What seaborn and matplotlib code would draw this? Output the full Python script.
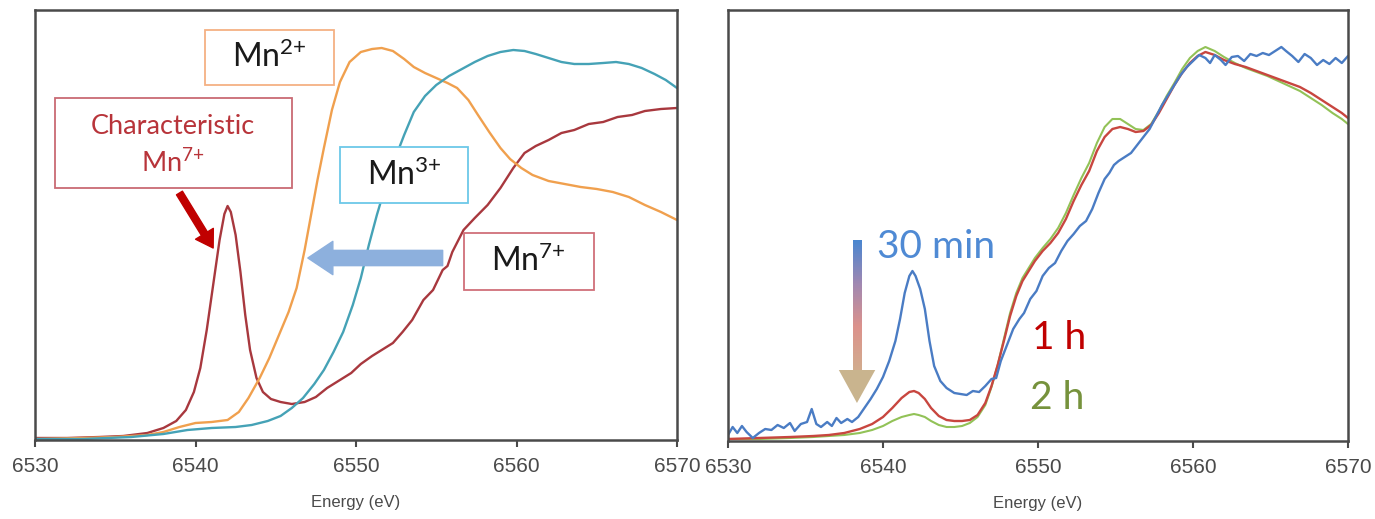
"""
Mn K-edge XANES – reference spectra (left) and time series (right)
"""

import numpy as np
import pandas as pd
import matplotlib.pyplot as plt
import matplotlib.patches as mpatches
from matplotlib.colors import LinearSegmentedColormap
import seaborn as sns

# ── Data (arbitrary absorption units) ──────────────────────────────────
e_mn7 = [6530, 6532, 6534, 6535.5, 6537, 6538, 6538.8, 6539.4, 6539.9, 6540.3,
         6540.7, 6541.1, 6541.5, 6541.8, 6542.0, 6542.2, 6542.5, 6542.8, 6543.1, 6543.4,
         6543.8, 6544.2, 6544.7, 6545.3, 6546.0, 6546.8, 6547.5, 6548.2, 6549.0, 6549.7,
         6550.3, 6551.0, 6551.6, 6552.3, 6552.9, 6553.5, 6554.2, 6554.8, 6555.4, 6555.7,
         6556.0, 6556.7, 6557.4, 6558.2, 6559.0, 6559.8, 6560.5, 6561.2, 6562.0, 6562.8,
         6563.6, 6564.5, 6565.4, 6566.3, 6567.2, 6568.0, 6569.0, 6570]
mn7 = [2, 2, 3, 4, 7, 12, 19, 30, 48, 72,
       110, 155, 200, 226, 234, 228, 205, 168, 125, 90,
       62, 48, 41, 38, 36, 38, 43, 52, 60, 67,
       76, 84, 90, 97, 108, 120, 140, 150, 170, 174,
       188, 210, 222, 235, 252, 272, 287, 294, 300, 307,
       310, 316, 318, 323, 325, 329, 331, 332]

e_mn2 = [6530, 6533, 6535, 6537, 6538, 6539, 6540, 6541, 6542, 6542.7,
         6543.3, 6544, 6544.6, 6545.2, 6545.8, 6546.3, 6546.8, 6547.2, 6547.6, 6548.0,
         6548.5, 6549.0, 6549.6, 6550.3, 6551.0, 6551.6, 6552.3, 6553.0, 6553.6, 6554.3,
         6555.0, 6555.7, 6556.3, 6557.0, 6557.6, 6558.3, 6559.0, 6559.6, 6560.3, 6561.0,
         6562.0, 6563.0, 6564.0, 6565.0, 6566.0, 6567.0, 6568.0, 6569.0, 6570]
mn2 = [1, 2, 3, 5, 8, 13, 17, 18, 20, 28,
       42, 62, 82, 105, 128, 152, 190, 225, 260, 292,
       330, 358, 378, 388, 391, 392, 389, 381, 373, 367,
       362, 357, 352, 340, 325, 308, 292, 281, 272, 265,
       259, 256, 253, 251, 248, 243, 235, 228, 220]

e_mn3 = [6530, 6533, 6536, 6538, 6539.5, 6541, 6542.5, 6543.5, 6544.5, 6545.3,
         6546, 6546.7, 6547.4, 6548, 6548.6, 6549.2, 6549.8, 6550.3, 6550.8, 6551.3,
         6551.8, 6552.4, 6553.0, 6553.6, 6554.3, 6555.0, 6555.8, 6556.6, 6557.4, 6558.2,
         6559.0, 6559.8, 6560.5, 6561.2, 6562.0, 6562.8, 6563.6, 6564.5, 6565.4, 6566.2,
         6567.0, 6567.8, 6568.6, 6569.3, 6570]
mn3 = [1, 1, 3, 6, 10, 12, 13, 15, 19, 24,
       32, 42, 56, 70, 88, 108, 135, 162, 195, 225,
       252, 280, 305, 328, 344, 355, 364, 371, 378, 384,
       388, 390, 389, 386, 382, 378, 376, 376, 377, 378,
       376, 372, 366, 360, 352]

e_30min = [6530, 6530.3, 6530.6, 6530.9, 6531.2, 6531.6, 6532.0, 6532.4, 6532.8, 6533.2,
           6533.6, 6534.0, 6534.3, 6534.7, 6535.1, 6535.4, 6535.7, 6536.0, 6536.4, 6536.7,
           6537.0, 6537.3, 6537.7, 6538.0, 6538.4, 6538.8, 6539.2, 6539.6, 6540.0, 6540.4,
           6540.8, 6541.1, 6541.4, 6541.7, 6541.9, 6542.1, 6542.4, 6542.7, 6543.0, 6543.3,
           6543.7, 6544.1, 6544.6, 6545.0, 6545.4, 6545.8, 6546.2, 6546.6, 6547.0, 6547.3,
           6547.6, 6548.0, 6548.4, 6548.8, 6549.1, 6549.5, 6549.9, 6550.3, 6550.7, 6551.1,
           6551.5, 6551.9, 6552.3, 6552.7, 6553.1, 6553.5, 6553.9, 6554.3, 6554.6, 6554.9,
           6555.2, 6555.6, 6556.0, 6556.4, 6556.8, 6557.2, 6557.6, 6558.0, 6558.4, 6558.8,
           6559.2, 6559.6, 6560.0, 6560.4, 6560.8, 6561.1, 6561.4, 6561.8, 6562.1, 6562.5,
           6562.9, 6563.3, 6563.7, 6564.1, 6564.5, 6564.9, 6565.3, 6565.7, 6566.0, 6566.4,
           6566.8, 6567.2, 6567.6, 6568.0, 6568.4, 6568.8, 6569.2, 6569.6, 6570]
s_30min = [6, 14, 8, 15, 9, 3, 8, 12, 11, 16,
           13, 18, 10, 17, 19, 32, 17, 14, 19, 15,
           23, 18, 22, 19, 24, 33, 42, 52, 64, 80,
           100, 122, 148, 165, 170, 165, 152, 132, 100, 75,
           60, 53, 48, 47, 46, 50, 49, 55, 62, 63,
           80, 96, 112, 122, 128, 142, 150, 165, 173, 178,
           190, 200, 207, 215, 220, 232, 248, 262, 268, 276,
           280, 284, 288, 296, 304, 312, 324, 336, 346, 356,
           366, 374, 380, 386, 383, 378, 386, 381, 376, 384,
           385, 380, 387, 385, 388, 386, 390, 394, 390, 385,
           379, 387, 383, 376, 381, 377, 383, 378, 385]

e_later = [6530, 6532, 6534, 6535.5, 6536.5, 6537.5, 6538.5, 6539.3, 6540.0, 6540.6,
           6541.2, 6541.7, 6542.0, 6542.3, 6542.7, 6543.1, 6543.6, 6544.1, 6544.6, 6545.1,
           6545.6, 6546.1, 6546.6, 6547.0, 6547.4, 6547.8, 6548.2, 6548.6, 6549.0, 6549.4,
           6549.8, 6550.3, 6550.8, 6551.3, 6551.8, 6552.3, 6552.8, 6553.3, 6553.8, 6554.3,
           6554.8, 6555.3, 6555.8, 6556.3, 6556.8, 6557.3, 6557.8, 6558.3, 6558.8, 6559.3,
           6559.8, 6560.3, 6560.8, 6561.4, 6562.0, 6562.7, 6563.4, 6564.1, 6564.8, 6565.5,
           6566.2, 6566.9, 6567.6, 6568.3, 6569.0, 6569.6, 6570]
s_1h = [2, 3, 4, 5, 6, 8, 12, 17, 24, 33,
        43, 49, 50, 48, 42, 33, 25, 21, 20, 20,
        21, 26, 38, 55, 76, 100, 125, 145, 160, 170,
        180, 190, 198, 208, 222, 240, 256, 270, 290, 304,
        312, 314, 312, 309, 310, 316, 328, 342, 356, 368,
        378, 385, 389, 386, 381, 377, 374, 370, 366, 362,
        358, 354, 348, 341, 334, 328, 323]
s_2h = [2, 2, 3, 4, 5, 6, 8, 11, 15, 20,
        24, 26, 27, 26, 24, 20, 16, 14, 14, 15,
        18, 24, 36, 54, 76, 102, 128, 148, 163, 173,
        183, 193, 202, 213, 228, 246, 263, 278, 298, 314,
        322, 322, 317, 312, 311, 317, 330, 345, 358, 372,
        383, 390, 394, 390, 384, 378, 373, 369, 365, 360,
        355, 350, 343, 336, 328, 322, 317]

x_ticks = [6530, 6540, 6550, 6560, 6570]

# ── Styling ────────────────────────────────────────────────
sns.set_theme(style="white")
plt.rcParams.update({
    "font.family": ["Liberation Sans", "DejaVu Sans"],
    "mathtext.default": "regular",
    "axes.edgecolor": "#4a4a4a",
    "axes.linewidth": 1.8,
})
LABEL_FONT = "Lato"
C_MN7, C_MN2, C_MN3 = "#a8383e", "#f0a04e", "#45a2b6"
C_30, C_1H, C_2H = "#4a7cc4", "#c8463f", "#92c257"

fig = plt.figure(figsize=(13.75, 5.19), dpi=100)
ax1 = fig.add_axes([35 / 1375, 79 / 519, 642 / 1375, 430 / 519])
ax2 = fig.add_axes([728 / 1375, 78 / 519, 620 / 1375, 431 / 519])

# ── Left panel: reference compounds ───────────────────────
sns.lineplot(x=e_mn7, y=mn7, ax=ax1, color=C_MN7, linewidth=1.7, sort=False)
sns.lineplot(x=e_mn2, y=mn2, ax=ax1, color=C_MN2, linewidth=1.7, sort=False)
sns.lineplot(x=e_mn3, y=mn3, ax=ax1, color=C_MN3, linewidth=1.7, sort=False)

def label_box(ax, x0, x1, y0, y1, edge):
    ax.add_patch(mpatches.Rectangle((x0, y0), x1 - x0, y1 - y0, facecolor="white",
                                    edgecolor=edge, linewidth=1.3, zorder=5))

label_box(ax1, 6540.6, 6548.6, 355, 410, "#f4b183")
ax1.text(6544.6, 383, "Mn$^{2{+}}$", ha="center", va="center", fontsize=23,
         family=LABEL_FONT, color="#1a1a1a", zorder=6)
label_box(ax1, 6531.25, 6546.0, 252, 342, "#c96a74")
ax1.text(6538.6, 313, "Characteristic", ha="center", va="center", fontsize=19.5,
         family=LABEL_FONT, color="#b8343a", zorder=6)
ax1.text(6538.6, 277, "Mn$^{7{+}}$", ha="center", va="center", fontsize=19.5,
         family=LABEL_FONT, color="#b8343a", zorder=6)
label_box(ax1, 6549.0, 6556.95, 237, 293, "#6cc8e8")
ax1.text(6553.0, 265, "Mn$^{3{+}}$", ha="center", va="center", fontsize=23,
         family=LABEL_FONT, color="#1a1a1a", zorder=6)
label_box(ax1, 6556.7, 6564.8, 150, 207, "#d0707a")
ax1.text(6560.75, 179, "Mn$^{7{+}}$", ha="center", va="center", fontsize=23,
         family=LABEL_FONT, color="#1a1a1a", zorder=6)

ax1.annotate("", xy=(6541.1, 192), xytext=(6539.0, 247),
             arrowprops=dict(facecolor="#c00000", edgecolor="#c00000", width=5,
                             headwidth=15, headlength=12, shrink=0), zorder=7)
ax1.annotate("", xy=(6547.0, 182), xytext=(6555.4, 182),
             arrowprops=dict(facecolor="#8db0dd", edgecolor="#8db0dd", width=11,
                             headwidth=24, headlength=18, shrink=0), zorder=7)

# ── Right panel: time series ───────────────────────────────
sns.lineplot(x=e_later, y=s_2h, ax=ax2, color=C_2H, linewidth=1.5, sort=False)
sns.lineplot(x=e_later, y=s_1h, ax=ax2, color=C_1H, linewidth=1.7, sort=False)
sns.lineplot(x=e_30min, y=s_30min, ax=ax2, color=C_30, linewidth=1.7, sort=False)

ax2.text(6539.6, 183, "30 min", ha="left", va="baseline", fontsize=28,
         family=LABEL_FONT, color="#4f8ad4")
ax2.text(6549.6, 92, "1 h", ha="left", va="baseline", fontsize=28,
         family=LABEL_FONT, color="#c00000")
ax2.text(6549.5, 32, "2 h", ha="left", va="baseline", fontsize=28,
         family=LABEL_FONT, color="#76923c")

# gradient arrow (blue -> pink -> tan)
arrow_cmap = LinearSegmentedColormap.from_list(
    "fade", ["#d2ac8e", "#dc928c", "#a088b2", "#4a86d0"])
grad = np.linspace(0, 1, 200).reshape(-1, 1)
ax2.imshow(grad, extent=[6538.05, 6538.6, 71, 201], origin="lower",
           aspect="auto", cmap=arrow_cmap, zorder=4)
ax2.add_patch(mpatches.Polygon([(6537.15, 71), (6539.5, 71), (6538.32, 38)],
                               closed=True, facecolor="#c9b48e", edgecolor="none",
                               zorder=4))

# ── Axes cosmetics ─────────────────────────────────────────
for ax, top in [(ax1, 430), (ax2, 431)]:
    ax.set_xlim(6530, 6570)
    ax.set_ylim(0, top)
    ax.set_xticks(x_ticks)
    ax.set_yticks([])
    ax.tick_params(axis="x", direction="out", length=5, width=1.5,
                   colors="#4a4a4a", labelsize=15, pad=7, bottom=True)
    ax.set_xlabel("Energy (eV)", fontsize=12, color="#4a4a4a", labelpad=14)
    ax.set_ylabel("")
    for sp in ax.spines.values():
        sp.set_visible(True)
        sp.set_color("#4a4a4a")

fig.savefig("out.png", dpi=100, facecolor="white")
